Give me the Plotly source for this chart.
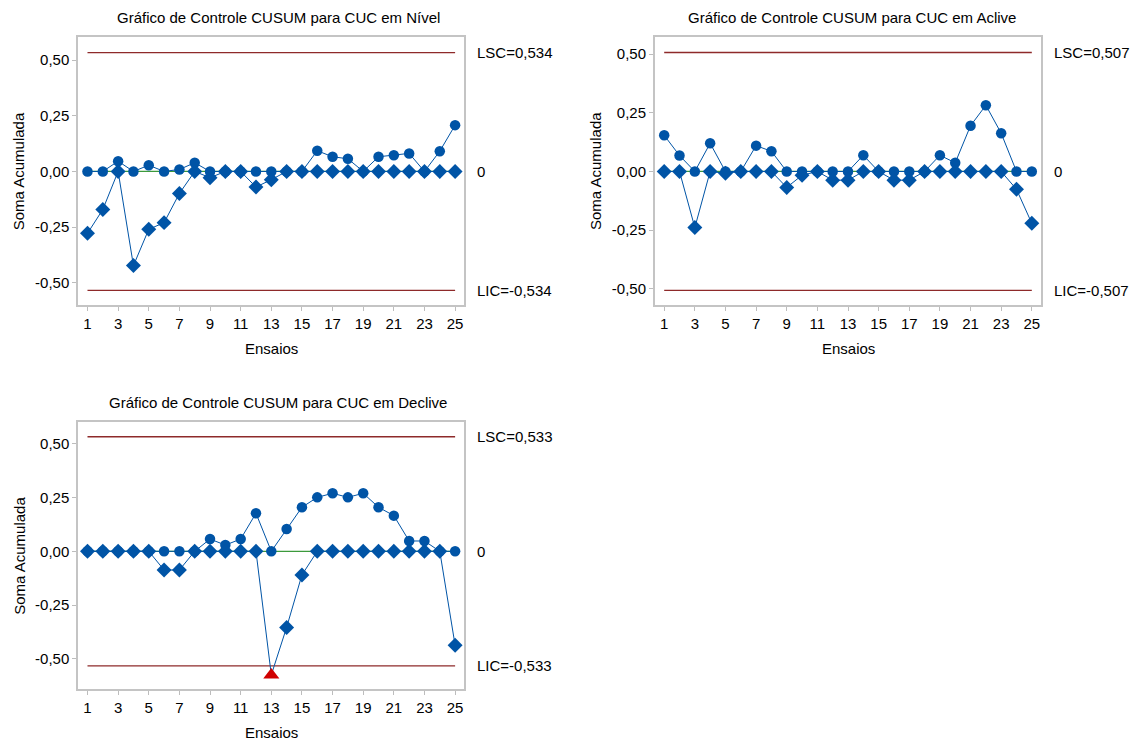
import plotly.graph_objects as go

# Ensaios (runs) 1..25
ensaios = list(range(1, 26))

# CUSUM - Nível
nivel_sup = [0, 0, 0.046, 0, 0.028, 0, 0.009, 0.039, 0, 0, 0, 0, 0, 0, 0,
             0.093, 0.066, 0.057, 0, 0.066, 0.073, 0.081, 0, 0.091, 0.208]
nivel_inf = [-0.278, -0.171, 0, -0.423, -0.26, -0.23, -0.099, 0, -0.028, 0,
             0, -0.07, -0.037, 0, 0, 0, 0, 0, 0, 0, 0, 0, 0, 0, 0]
nivel_h = 0.534

# CUSUM - Aclive
aclive_sup = [0.154, 0.068, 0, 0.12, 0, 0, 0.11, 0.086, 0, 0, 0, 0, 0,
              0.069, 0, 0, 0, 0, 0.069, 0.037, 0.195, 0.282, 0.163, 0, 0]
aclive_inf = [0, 0, -0.239, 0, -0.008, 0, 0, 0, -0.068, -0.016, 0, -0.037,
              -0.037, 0, 0, -0.037, -0.037, 0, 0, 0, 0, 0, 0, -0.076, -0.221]
aclive_h = 0.507

# CUSUM - Declive
declive_sup = [0, 0, 0, 0, 0, 0, 0, 0, 0.057, 0.029, 0.057, 0.177, 0, 0.104,
               0.205, 0.251, 0.27, 0.251, 0.27, 0.205, 0.166, 0.048, 0.048, 0, 0]
declive_inf = [0, 0, 0, 0, 0, -0.087, -0.087, 0, 0, 0, 0, 0, -0.575, -0.354,
               -0.11, 0, 0, 0, 0, 0, 0, 0, 0, 0, -0.437]
declive_h = 0.533

titulos = ["Gráfico de Controle CUSUM para CUC em Nível",
           "Gráfico de Controle CUSUM para CUC em Aclive",
           "Gráfico de Controle CUSUM para CUC em Declive"]

x_ticks = list(range(1, 26, 2))
y_ticks = [-0.5, -0.25, 0, 0.25, 0.5]
y_tick_text = ["-0,50", "-0,25", "0,00", "0,25", "0,50"]

W, H = 1132, 740
AZUL = "#0054A6"
VERMELHO_LIM = "#8E2A2A"
VERDE = "#3C9A3C"
FONTE = "Liberation Sans, Arial, sans-serif"

# panel geometry in pixels: (left, right, top, bottom), y range, title centre
paineis = [
    dict(sup=nivel_sup, inf=nivel_inf, h=nivel_h, box=(78.3, 464.3, 37, 305),
         yr=[-0.60, 0.604], tx=278, ty=18),
    dict(sup=aclive_sup, inf=aclive_inf, h=aclive_h, box=(655, 1041, 37, 305),
         yr=[-0.569, 0.573], tx=852, ty=18),
    dict(sup=declive_sup, inf=declive_inf, h=declive_h, box=(78.3, 464.3, 421.7, 689.3),
         yr=[-0.642, 0.603], tx=278, ty=402),
]


def fmt(v):
    return f"{v:.3f}".replace(".", ",")


fig = go.Figure()
annotations = []
layout_axes = {}

for i, p in enumerate(paineis):
    n = "" if i == 0 else str(i + 1)
    xa, ya = "x" + n, "y" + n
    l, r, t, b = p["box"]
    h = p["h"]

    # control limits and centre line
    for yv, cor, lw in [(h, VERMELHO_LIM, 1.3), (-h, VERMELHO_LIM, 1.3), (0, VERDE, 1.2)]:
        fig.add_trace(go.Scatter(x=[1, 25], y=[yv, yv], mode="lines", xaxis=xa, yaxis=ya,
                                 line=dict(color=cor, width=lw), showlegend=False,
                                 hoverinfo="skip"))

    # upper CUSUM
    fig.add_trace(go.Scatter(x=ensaios, y=p["sup"], mode="lines+markers", xaxis=xa, yaxis=ya,
                             line=dict(color=AZUL, width=1),
                             marker=dict(symbol="circle", size=10.5, color=AZUL, opacity=1,
                                         line=dict(width=0)),
                             showlegend=False, name="Cusum superior"))

    # lower CUSUM; points beyond the limits are flagged with a red triangle
    fora = [abs(v) > h for v in p["inf"]]
    fig.add_trace(go.Scatter(x=ensaios, y=p["inf"], mode="lines+markers", xaxis=xa, yaxis=ya,
                             line=dict(color=AZUL, width=1),
                             marker=dict(symbol=["triangle-up" if f else "diamond" for f in fora],
                                         size=[14 if f else 11.5 for f in fora],
                                         color=["#D00000" if f else AZUL for f in fora],
                                         opacity=1, line=dict(width=0)),
                             showlegend=False, name="Cusum inferior"))

    layout_axes["xaxis" + n] = dict(
        domain=[l / W, r / W], anchor=ya, range=[0.4, 25.6],
        tickmode="array", tickvals=x_ticks, ticks="outside", ticklen=4,
        tickcolor="#BDBDBD", showgrid=False, zeroline=False,
        showline=True, linecolor="#C4C4C4", linewidth=2, mirror=True,
        tickfont=dict(family=FONTE, size=15, color="black"))
    layout_axes["yaxis" + n] = dict(
        domain=[1 - b / H, 1 - t / H], anchor=xa, range=p["yr"],
        tickmode="array", tickvals=y_ticks, ticktext=y_tick_text,
        ticks="outside", ticklen=4, tickcolor="#BDBDBD",
        showgrid=False, zeroline=False,
        showline=True, linecolor="#C4C4C4", linewidth=2, mirror=True,
        tickfont=dict(family=FONTE, size=15, color="black"))

    # right-hand labels for limits and centre
    for yv, txt in [(h, "LSC=" + fmt(h)), (0, "0"), (-h, "LIC=-" + fmt(h))]:
        annotations.append(dict(xref=xa + " domain", yref=ya, x=1, y=yv, xshift=11,
                                xanchor="left", yanchor="middle", showarrow=False, text=txt,
                                font=dict(family=FONTE, size=15, color="black")))

    # panel title and axis titles
    annotations.append(dict(xref="paper", yref="paper", x=p["tx"] / W, y=1 - p["ty"] / H,
                            xanchor="center", yanchor="middle", showarrow=False,
                            text=titulos[i], font=dict(family=FONTE, size=15, color="black")))
    annotations.append(dict(xref="paper", yref="paper", x=(l + r) / 2 / W,
                            y=1 - (b + 43) / H, xanchor="center", yanchor="middle",
                            showarrow=False, text="Ensaios",
                            font=dict(family=FONTE, size=15, color="black")))
    annotations.append(dict(xref="paper", yref="paper", x=(l - 59) / W,
                            y=1 - (t + b) / 2 / H, xanchor="center", yanchor="middle",
                            showarrow=False, text="Soma Acumulada", textangle=-90,
                            font=dict(family=FONTE, size=15, color="black")))

fig.update_layout(
    width=W, height=H, margin=dict(l=0, r=0, t=0, b=0),
    paper_bgcolor="white", plot_bgcolor="white",
    annotations=annotations, **layout_axes)

fig.write_html("out.html")
